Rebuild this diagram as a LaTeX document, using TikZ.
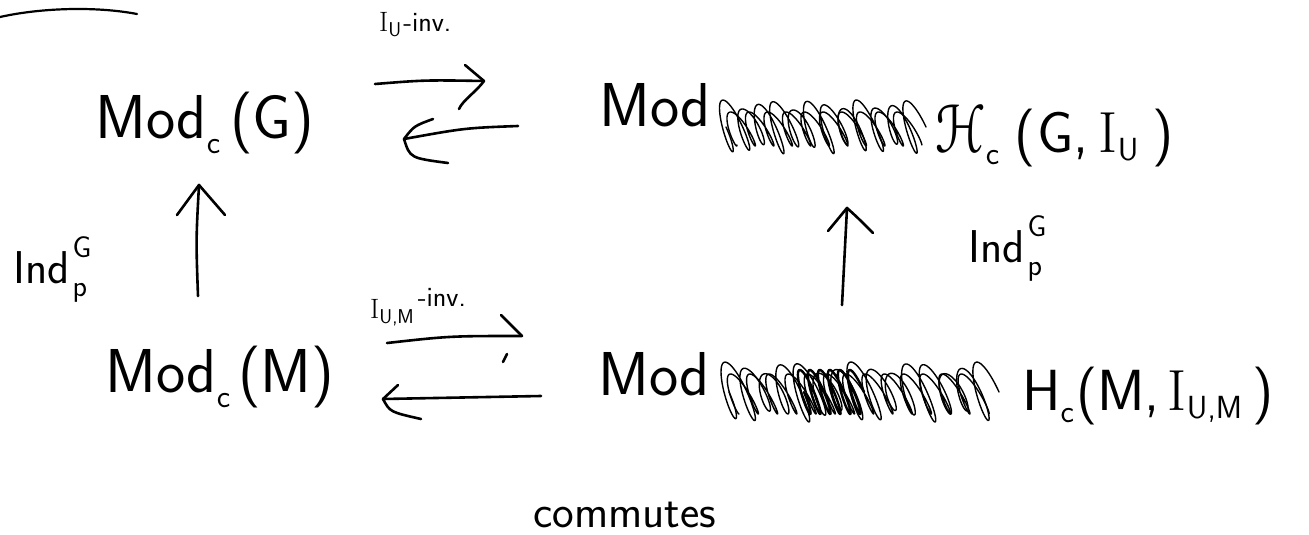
\documentclass[tikz,border=0pt]{standalone}
\usepackage{fontspec}
\newfontfamily\scriptH{DejaVu Sans}
% lowered subscript in text: optional drop, size, text
\newcommand\hsub[3][15pt]{\raisebox{-#1}{\fontsize{#2}{#2}\selectfont #3}}
\newcommand\upsc[3][15pt]{\raisebox{#1}{\fontsize{#2}{#2}\selectfont #3}}
\begin{document}
\begin{tikzpicture}[x=1pt,y=-1pt,
  obj/.style={inner sep=0pt, anchor=base west, font=\sffamily\fontsize{62}{70}\selectfont},
  objr/.style={inner sep=0pt, anchor=base west, font=\sffamily\fontsize{58}{66}\selectfont},
  lbl/.style={inner sep=0pt, anchor=base west, font=\sffamily\fontsize{28}{32}\selectfont},
  ind/.style={inner sep=0pt, anchor=base west, font=\sffamily\fontsize{46}{50}\selectfont},
  pen/.style={line width=2.6pt, line cap=round, line join=round},
  scribble/.style={line width=1.4pt, line join=round, line cap=round}]
\useasboundingbox (0,0) rectangle (1309,535);

% stray stroke in the corner
\draw[pen, line width=2.2pt] (0,17) .. controls (40,8) and (95,6) .. (137,14);

% objects of the square
\node[obj] (modG) at (95,138) {Mod\hsub{32}{c}\hspace{10pt}(G)};
\node[obj] (modHG) at (599,126) {Mod};
\node[objr] (HG) at (935,152) {\scalebox{0.8}[1]{\scriptH\fontsize{64}{70}\selectfont ℋ}\hsub[12pt]{32}{c}\hspace{15pt}(\hspace{2pt}G,\hspace{10pt}\textrm{I}\hsub[8pt]{32}{U}\hspace{14pt})};
\node[obj] (modM) at (105,392) {Mod\hsub{32}{c}\hspace{8pt}(M)};
\node[obj] (modHM) at (598,395) {Mod};
\node[objr] (HM) at (1022,410) {H\hsub[12pt]{32}{c}\hspace{2pt}(M,\hspace{8pt}\textrm{I}\hsub[8pt]{32}{U,M}\hspace{10pt})};

% crossed-out words
\draw[scribble] plot[domain=0:4320, samples=560]
  ({720 + \x/4320*200 + 6*cos(\x) + 0.35*((22+5*sin(0.37*\x))*sin(\x))},
   {127 + (22+5*sin(0.37*\x))*sin(\x)});
\draw[scribble] plot[domain=0:3600, samples=460]
  ({728 + \x/3600*185 + 5*cos(\x+70) + 0.45*(17*sin(\x+70))}, {129 + 17*sin(\x+70)});
\draw[scribble] plot[domain=0:5400, samples=680]
  ({722 + \x/5400*270 + 7*cos(\x) + 0.35*((24+6*sin(0.29*\x))*sin(\x))},
   {392 + (24+6*sin(0.29*\x))*sin(\x)});
\draw[scribble] plot[domain=0:4680, samples=600]
  ({730 + \x/4680*250 + 5*cos(\x+90) + 0.45*(20*sin(\x+90))}, {394 + 20*sin(\x+90)});
\draw[scribble, line width=2.4pt] plot[domain=0:2160, samples=300]
  ({800 + \x/2160*60 + 4*cos(\x) + 0.35*(22*sin(\x))}, {392 + 22*sin(\x)});

% labels
\node[lbl] (lu) at (379,32) {\textrm{I}\hsub[5pt]{20}{U}\hspace{2pt}-inv.};
\node[lbl] (lum) at (370,318) {\textrm{I}\hsub[5pt]{20}{U,M}\hspace{4pt}\upsc[12pt]{28}{-inv.}};
\node[ind] (indL) at (13,283) {Ind\hspace{3pt}\rlap{\upsc[26pt]{30}{G}}\hsub[13pt]{30}{p}};
\node[ind] (indR) at (968,262) {Ind\hspace{3pt}\rlap{\upsc[26pt]{30}{G}}\hsub[13pt]{30}{p}};
\node[inner sep=0pt, anchor=base west, font=\sffamily\fontsize{46}{50}\selectfont] (comm) at (533,527) {commutes};

% arrow end points
\coordinate (tr1) at (375,84);  \coordinate (tr2) at (484,81);
\coordinate (tl1) at (518,126); \coordinate (tl2) at (404,139);
\coordinate (br1) at (387,343); \coordinate (br2) at (522,336);
\coordinate (bl1) at (541,396); \coordinate (bl2) at (383,399);
\coordinate (vl1) at (198,296); \coordinate (vl2) at (199,185);
\coordinate (vr1) at (842,305); \coordinate (vr2) at (847,208);

% top pair
\draw[pen] (tr1) .. controls (425,80) .. (tr2);
\draw[pen] (465,65) -- (tr2) .. controls (476,92) and (463,100) .. (459,109);
\draw[pen] (tl1) .. controls (465,128) .. (tl2);
\draw[pen] (433,119) .. controls (414,126) .. (tl2) .. controls (410,158) .. (448,163);

% bottom pair
\draw[pen] (br1) .. controls (450,336) .. (br2);
\draw[pen] (501,315) -- (br2);
\draw[pen] (507,354) -- (503,362);
\draw[pen] (bl1) -- (bl2);
\draw[pen] (398,385) -- (bl2) .. controls (390,412) .. (421,419);

% verticals
\draw[pen] (vl1) .. controls (196,240) .. (vl2);
\draw[pen] (177,215) -- (vl2) -- (225,215);
\draw[pen] (vr1) -- (vr2);
\draw[pen] (828,231) -- (vr2) .. controls (858,218) .. (873,233);
\end{tikzpicture}
\end{document}
